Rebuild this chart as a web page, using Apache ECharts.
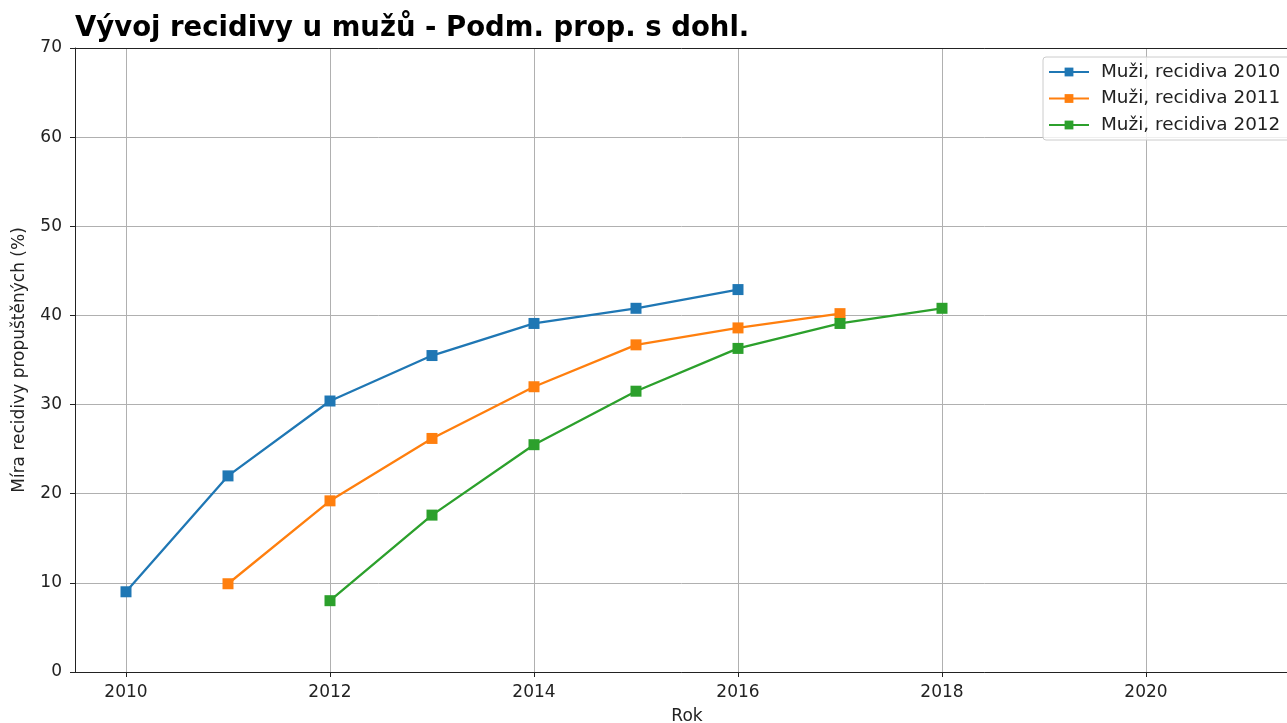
<!DOCTYPE html>
<html>
<head>
<meta charset="utf-8">
<script src="https://cdn.jsdelivr.net/npm/echarts@6/dist/echarts.min.js"></script>
<style>
  html, body { margin: 0; padding: 0; background: #fff; overflow: hidden; }
  #chart { width: 1287px; height: 723px; }
</style>
</head>
<body>
<div id="chart"></div>
<script>
// data
const years2010 = [2010, 2011, 2012, 2013, 2014, 2015, 2016]
const values2010 = [9.0, 22.0, 30.4, 35.5, 39.1, 40.8, 42.9]
const years2011 = [2011, 2012, 2013, 2014, 2015, 2016, 2017]
const values2011 = [9.9, 19.2, 26.2, 32.0, 36.7, 38.6, 40.2]
const years2012 = [2012, 2013, 2014, 2015, 2016, 2017, 2018]
const values2012 = [8.0, 17.6, 25.5, 31.5, 36.3, 39.1, 40.8]
const xTicks = [2010, 2012, 2014, 2016, 2018, 2020]
const seriesNames = ['Muži, recidiva 2010', 'Muži, recidiva 2011', 'Muži, recidiva 2012']
const colors = ['#1f77b4', '#ff7f0e', '#2ca02c']

const font = 'DejaVu Sans'

function pairs(xs, ys) {
    return xs.map((x, i) => [x, ys[i]])
}

function makeSeries(name, xs, ys, color) {
    return {
        name: name,
        type: 'line',
        data: pairs(xs, ys),
        symbol: 'rect',
        symbolSize: 11,
        lineStyle: { width: 2.3, color: color },
        itemStyle: { color: color },
        emphasis: { disabled: true },
        z: 3
    }
}

const chart = echarts.init(document.getElementById('chart'))
const option = {
    animation: false,
    color: colors,
    title: {
        text: 'Vývoj recidivy u mužů - Podm. prop. s dohl.',
        left: 70,
        top: 10,
        textStyle: { fontFamily: font, fontSize: 27.5, fontWeight: 'bold', color: '#000' }
    },
    legend: {
        orient: 'vertical',
        left: 1043,
        top: 57,
        data: seriesNames,
        itemWidth: 40,
        itemHeight: 11,
        itemGap: 8.5,
        padding: [6, 12, 6, 5],
        backgroundColor: 'rgba(255,255,255,0.8)',
        borderColor: '#cccccc',
        borderWidth: 1,
        borderRadius: 3,
        textStyle: { fontFamily: font, fontSize: 18.4, color: '#222', padding: [0, 0, 0, 7] }
    },
    grid: {
        left: 75,
        top: 48,
        bottom: 51,
        right: -12,
        outerBoundsMode: 'none',
        containLabel: false
    },
    xAxis: {
        type: 'value',
        min: 2009.5,
        max: 2021.5,
        name: 'Rok',
        nameLocation: 'middle',
        nameGap: 36,
        nameTextStyle: { fontFamily: font, fontSize: 17, color: '#222' },
        axisLine: { show: true, onZero: false, lineStyle: { color: '#222', width: 1 } },
        axisTick: { show: true, length: 5, customValues: xTicks, lineStyle: { color: '#222' } },
        axisLabel: {
            fontFamily: font, fontSize: 17, color: '#222', margin: 12,
            customValues: xTicks,
            formatter: v => String(v)
        },
        splitLine: { show: true, lineStyle: { color: '#b0b0b0', width: 1 } }
    },
    yAxis: {
        type: 'value',
        min: 0,
        max: 70,
        interval: 10,
        name: 'Míra recidivy propuštěných (%)',
        nameLocation: 'middle',
        nameGap: 47,
        nameTextStyle: { fontFamily: font, fontSize: 17, color: '#222' },
        axisLine: { show: true, lineStyle: { color: '#222', width: 1 } },
        axisTick: { show: true, length: 5, lineStyle: { color: '#222' } },
        axisLabel: { fontFamily: font, fontSize: 17, color: '#222', margin: 13, padding: [3, 0, 0, 0] },
        splitLine: { show: true, lineStyle: { color: '#b0b0b0', width: 1 } }
    },
    series: [
        makeSeries(seriesNames[0], years2010, values2010, colors[0]),
        makeSeries(seriesNames[1], years2011, values2011, colors[1]),
        makeSeries(seriesNames[2], years2012, values2012, colors[2]),
        // top spine
        {
            type: 'line',
            data: [],
            markLine: {
                silent: true,
                symbol: 'none',
                label: { show: false },
                lineStyle: { color: '#222', width: 1, type: 'solid' },
                data: [{ yAxis: 70 }]
            }
        }
    ]
}
chart.setOption(option)
</script>
</body>
</html>
